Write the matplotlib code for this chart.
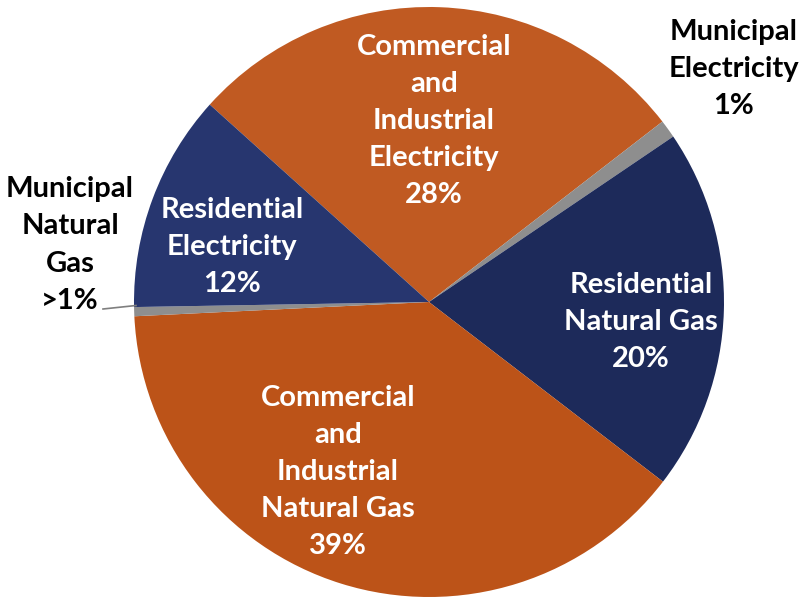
import matplotlib
matplotlib.use("Agg")
import matplotlib.pyplot as plt

# Energy use shares by sector and fuel
categories = [
    "Commercial\nand\nIndustrial\nElectricity",
    "Municipal\nElectricity",
    "Residential\nNatural Gas",
    "Commercial\nand\nIndustrial\nNatural Gas",
    "Municipal\nNatural\nGas",
    "Residential\nElectricity",
]
values = [28, 1, 20, 39, 0.5, 12]
value_labels = ["28%", "1%", "20%", "39%", ">1%", "12%"]

colors = ["#C05A22", "#8E8E8E", "#1D2A5A", "#BC5318", "#8E8E8E", "#27366F"]
text_colors = ["white", "black", "white", "white", "black", "white"]

W, H = 802, 599
fig = plt.figure(figsize=(W / 100, H / 100), dpi=100)
ax = fig.add_axes([0, 0, 1, 1])

cx, cy, r = 429, H - 302, 295
ax.pie(values, colors=colors, startangle=138, counterclock=False,
       center=(cx, cy), radius=r, frame=True,
       wedgeprops=dict(linewidth=0))
ax.set_xlim(0, W)
ax.set_ylim(0, H)
ax.set_aspect("equal")
ax.axis("off")

# label block centres (pixel positions from the top-left)
label_pos = [(434, 121), (734, 69), (641, 322), (338, 472), (70, 245), (232, 247)]

for cat, val, tc, (x, y) in zip(categories, value_labels, text_colors, label_pos):
    ax.text(x, H - y, f"{cat}\n{val}", ha="center", va="center",
            color=tc, fontsize=21, fontweight="bold", family="Lato",
            linespacing=1.53)

# leader line for the small municipal gas slice
ax.plot([103, 136], [H - 309, H - 305.5], color="#7F7F7F", lw=1.2)

fig.savefig("out.png", dpi=100)
